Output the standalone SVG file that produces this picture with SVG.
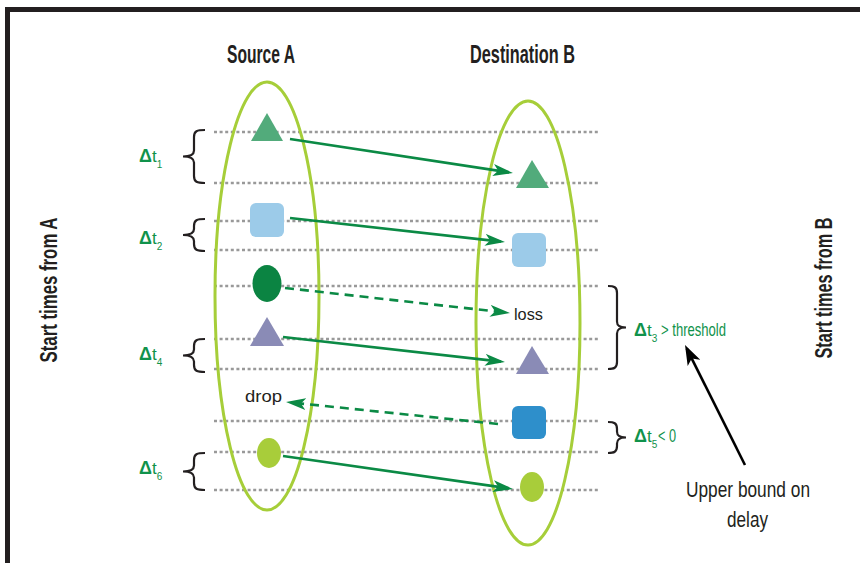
<svg xmlns="http://www.w3.org/2000/svg" width="860" height="563" viewBox="0 0 860 563">
<style>
.frame{fill:none;stroke:#231f20;stroke-width:5}
.grid{stroke:#999;stroke-width:2.4;stroke-dasharray:3 2.6;fill:none}
.oval{fill:none;stroke:#a6ce39;stroke-width:3}
.arr{stroke:#0b8a45;stroke-width:2.6;fill:none;marker-end:url(#gh)}
.dash{stroke-dasharray:9 6}
.brace{fill:none;stroke:#231f20;stroke-width:2.2}
.title{font-family:"Liberation Sans",Arial,sans-serif;font-weight:bold;fill:#231f20}
.lbl{font-family:"Liberation Sans",Arial,sans-serif;fill:#231f20}
.g{font-family:"Liberation Sans",Arial,sans-serif;fill:#10924b}
.gb{font-weight:bold;font-size:18px}
.gt{font-size:17px}
.gs{font-size:10px}
</style>
<defs>
<marker id="gh" viewBox="0 0 20 12" refX="16" refY="6" markerWidth="20" markerHeight="12" orient="auto" markerUnits="userSpaceOnUse">
<path d="M0,0 L20,6 L0,12 L5,6 Z" fill="#0b8a45"/>
</marker>
<marker id="kh" viewBox="0 0 20 14" refX="16" refY="7" markerWidth="20" markerHeight="14" orient="auto" markerUnits="userSpaceOnUse">
<path d="M0,0 L20,7 L0,14 L5,7 Z" fill="#000"/>
</marker>
</defs>
<rect width="860" height="563" fill="#fff"/>
<path class="frame" d="M7.5,563 L7.5,9.5 L860,9.5"/>

<g id="gridlines">
<line class="grid" x1="214" y1="132" x2="598" y2="132"/>
<line class="grid" x1="214" y1="183" x2="598" y2="183"/>
<line class="grid" x1="214" y1="221" x2="598" y2="221"/>
<line class="grid" x1="214" y1="250" x2="598" y2="250"/>
<line class="grid" x1="214" y1="286" x2="598" y2="286"/>
<line class="grid" x1="214" y1="339" x2="598" y2="339"/>
<line class="grid" x1="214" y1="369" x2="598" y2="369"/>
<line class="grid" x1="214" y1="421" x2="598" y2="421"/>
<line class="grid" x1="214" y1="452" x2="598" y2="452"/>
<line class="grid" x1="214" y1="490" x2="598" y2="490"/>
</g>

<g id="sourceA">
<ellipse class="oval" cx="267" cy="296" rx="52" ry="214"/>
<text class="title" x="261" y="63" font-size="25" text-anchor="middle" textLength="68" lengthAdjust="spacingAndGlyphs">Source A</text>
</g>
<g id="destB">
<ellipse class="oval" cx="528" cy="323" rx="52" ry="222"/>
<text class="title" x="522.5" y="63" font-size="25" text-anchor="middle" textLength="105" lengthAdjust="spacingAndGlyphs">Destination B</text>
</g>

<g id="a1"><path d="M267,113 L283,141 L251,141 Z" fill="#52ab7b"/></g>
<g id="a2"><rect x="250" y="203" width="34" height="34" rx="6" fill="#9ccbe9"/></g>
<g id="a3"><ellipse cx="267" cy="283.5" rx="14.5" ry="18.5" fill="#0b8442"/></g>
<g id="a4"><path d="M267,317 L284,346 L250,346 Z" fill="#8a8bb6"/></g>
<g id="a6"><ellipse cx="269" cy="453" rx="12" ry="15" fill="#a8cd3a"/></g>

<g id="b1"><path d="M532,160 L549,188 L516,188 Z" fill="#52ab7b"/></g>
<g id="b2"><rect x="512" y="233" width="34" height="34" rx="6" fill="#9ccbe9"/></g>
<g id="b4"><path d="M532,346 L549,374 L516,374 Z" fill="#8a8bb6"/></g>
<g id="b5"><rect x="512" y="406" width="34" height="33" rx="6" fill="#2e8fcb"/></g>
<g id="b6"><ellipse cx="532" cy="487" rx="12" ry="15" fill="#a8cd3a"/></g>

<g id="loss"><text class="lbl" x="514" y="320" font-size="17" textLength="29" lengthAdjust="spacingAndGlyphs">loss</text></g>
<g id="drop"><text class="lbl" x="245" y="402" font-size="17" textLength="37" lengthAdjust="spacingAndGlyphs">drop</text></g>

<g id="connectors">
<line class="arr" x1="290" y1="139" x2="509" y2="172.4"/>
<line class="arr" x1="290" y1="218" x2="501" y2="241.6"/>
<line class="arr dash" x1="285" y1="288" x2="506" y2="312.6"/>
<line class="arr" x1="283" y1="337" x2="501" y2="361.6"/>
<line class="arr dash" x1="498" y1="424" x2="290" y2="402.4"/>
<line class="arr" x1="283" y1="456" x2="509" y2="488.4"/>
<line x1="745" y1="465" x2="686.8" y2="348.6" stroke="#000" stroke-width="2.6" marker-end="url(#kh)"/>
</g>

<g id="braces">
<path class="brace" d="M205,130 C197,130 194,131 194,137 L194,150.5 C194,154.5 191,156.5 183,156.5 C191,156.5 194,158.5 194,162.5 L194,176 C194,182 197,183 205,183"/>
<path class="brace" d="M205,219 C197,219 194,220 194,226 L194,229 C194,233 191,235 183,235 C191,235 194,237 194,241 L194,244 C194,250 197,251 205,251"/>
<path class="brace" d="M205,339 C197,339 194,340 194,346 L194,349.5 C194,353.5 191,355.5 183,355.5 C191,355.5 194,357.5 194,361.5 L194,365 C194,371 197,372 205,372"/>
<path class="brace" d="M205,453 C197,453 194,454 194,460 L194,465.5 C194,469.5 191,471.5 183,471.5 C191,471.5 194,473.5 194,477.5 L194,483 C194,489 197,490 205,490"/>
<path class="brace" d="M608,286 C614,286 617,287 617,293 L617,321.5 C617,325.5 619,327.5 626,327.5 C619,327.5 617,329.5 617,333.5 L617,362 C617,368 614,369 608,369"/>
<path class="brace" d="M608,422 C614,422 617,423 617,429 L617,431.5 C617,435.5 619,437.5 626,437.5 C619,437.5 617,439.5 617,443.5 L617,446 C617,452 614,453 608,453"/>
</g>

<g id="dt-labels">
<text class="g" x="139" y="162"><tspan class="gb">Δ</tspan><tspan class="gt">t</tspan><tspan class="gs" dy="6">1</tspan></text>
<text class="g" x="139" y="244"><tspan class="gb">Δ</tspan><tspan class="gt">t</tspan><tspan class="gs" dy="6">2</tspan></text>
<text class="g" x="139" y="360"><tspan class="gb">Δ</tspan><tspan class="gt">t</tspan><tspan class="gs" dy="6">4</tspan></text>
<text class="g" x="139" y="474"><tspan class="gb">Δ</tspan><tspan class="gt">t</tspan><tspan class="gs" dy="6">6</tspan></text>
<text class="g" x="634" y="336"><tspan class="gb">Δ</tspan><tspan class="gt">t</tspan><tspan class="gs" dy="6">3</tspan></text>
<text class="g" x="661" y="336" font-size="19" textLength="65" lengthAdjust="spacingAndGlyphs">&gt; threshold</text>
<text class="g" x="634" y="442"><tspan class="gb">Δ</tspan><tspan class="gt">t</tspan><tspan class="gs" dy="6">5</tspan></text>
<text class="g" x="658" y="442" font-size="19" textLength="18" lengthAdjust="spacingAndGlyphs">&lt; 0</text>
</g>

<g id="upper-bound">
<text class="lbl" x="748" y="497" font-size="22" text-anchor="middle" textLength="124" lengthAdjust="spacingAndGlyphs">Upper bound on</text>
<text class="lbl" x="747.5" y="527" font-size="22" text-anchor="middle" textLength="41" lengthAdjust="spacingAndGlyphs">delay</text>
</g>

<g id="side-labels">
<text class="title" font-size="24" text-anchor="middle" transform="translate(57,290) rotate(-90)" textLength="145" lengthAdjust="spacingAndGlyphs">Start times from A</text>
<text class="title" font-size="24" text-anchor="middle" transform="translate(832,288) rotate(-90)" textLength="141" lengthAdjust="spacingAndGlyphs">Start times from B</text>
</g>
</svg>
